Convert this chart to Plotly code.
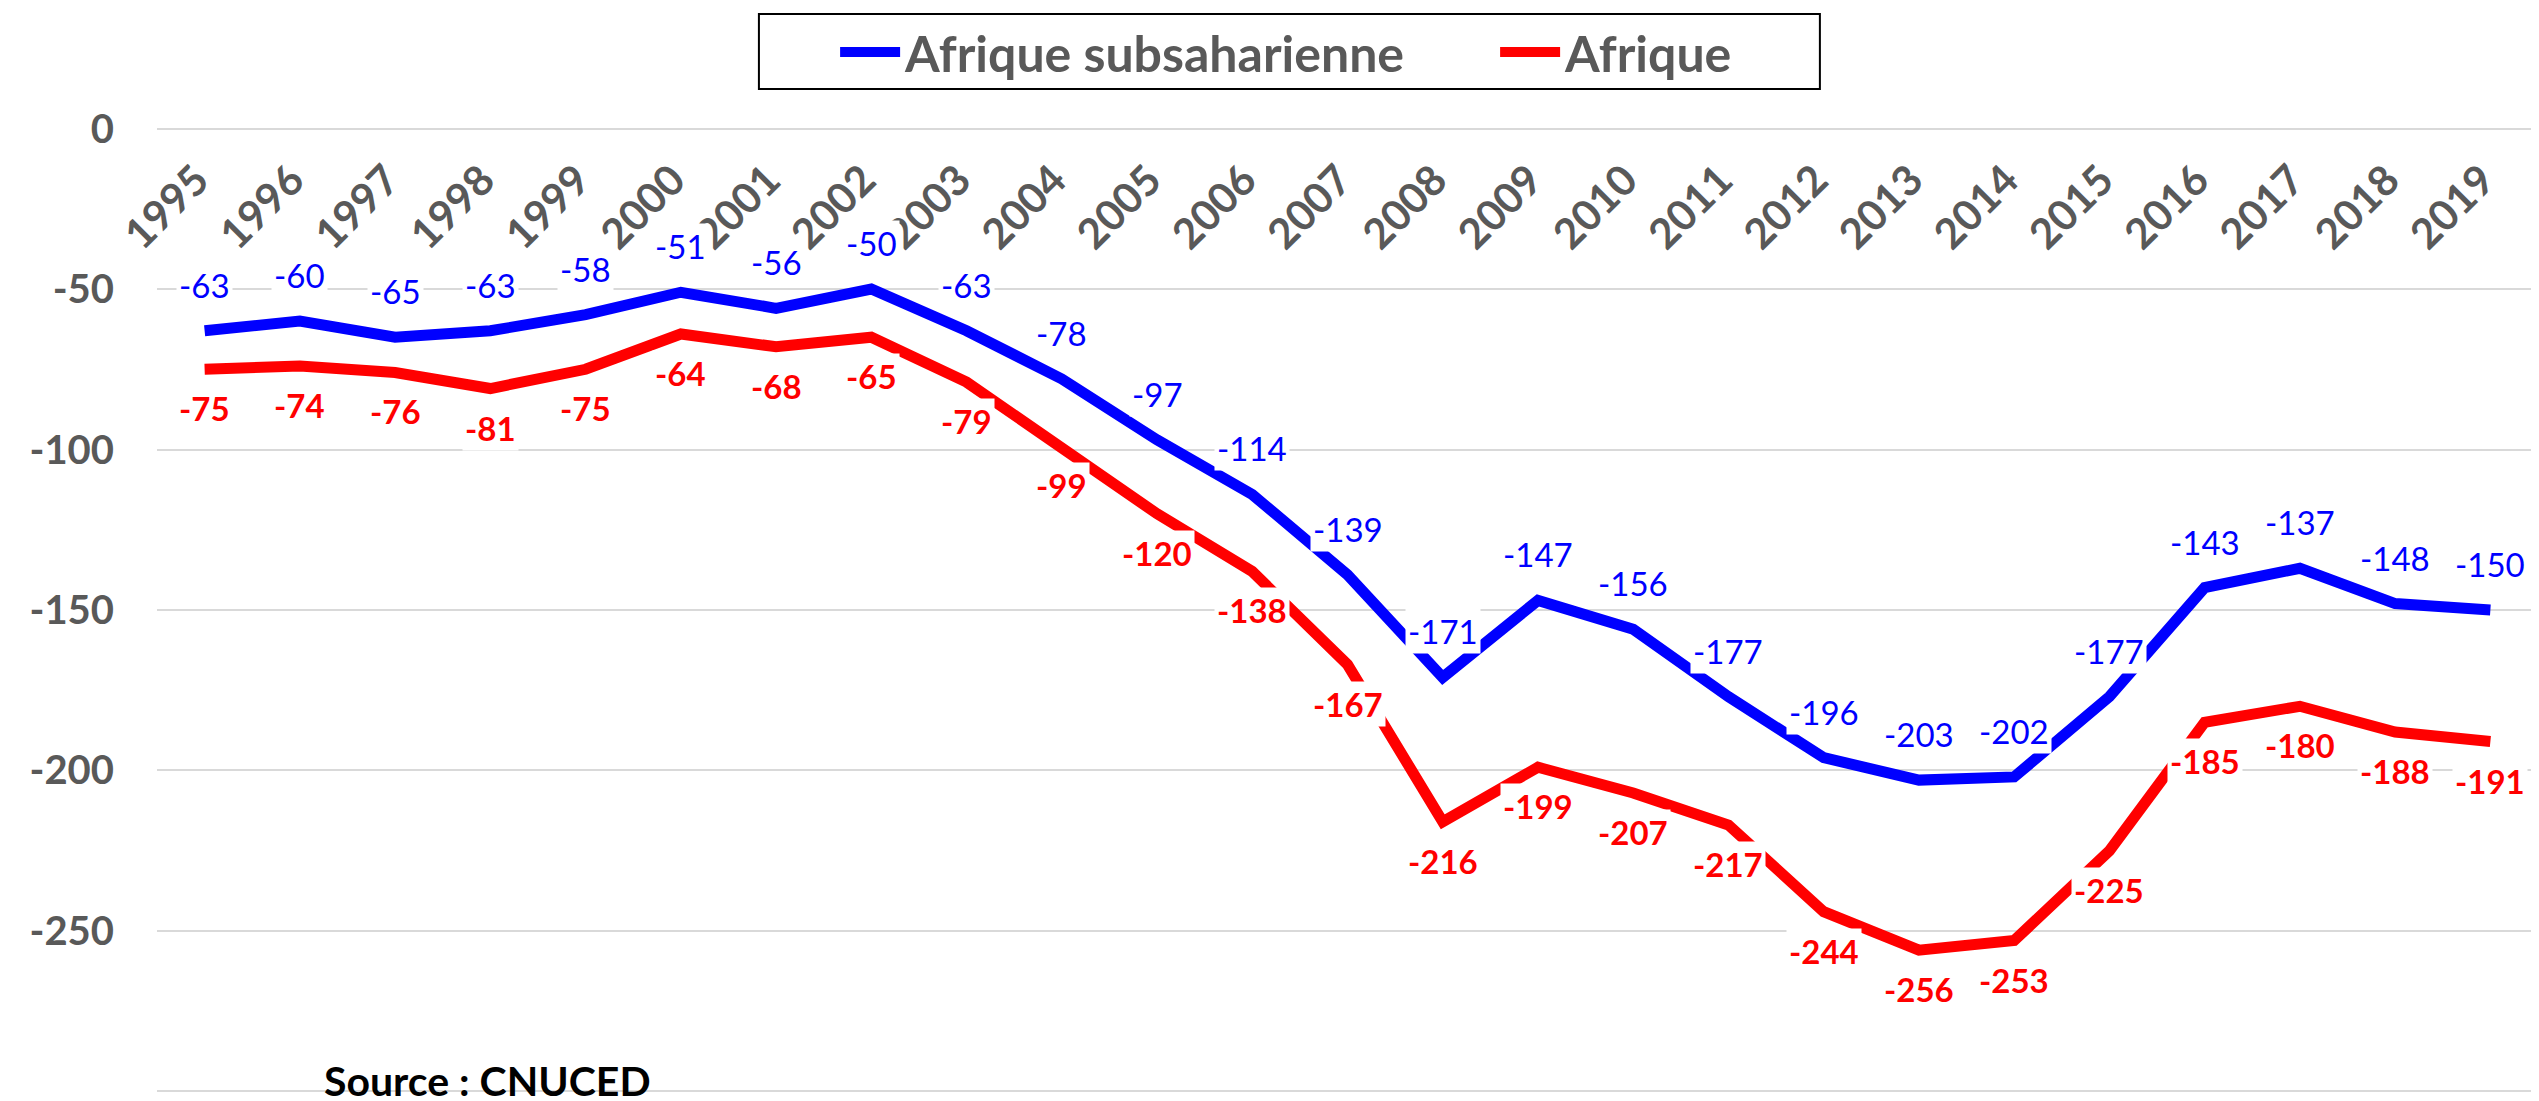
import plotly.graph_objects as go

years = list(range(1995, 2020))
ssa = [-63, -60, -65, -63, -58, -51, -56, -50, -63, -78, -97, -114, -139, -171,
       -147, -156, -177, -196, -203, -202, -177, -143, -137, -148, -150]
afrique = [-75, -74, -76, -81, -75, -64, -68, -65, -79, -99, -120, -138, -167, -216,
           -199, -207, -217, -244, -256, -253, -225, -185, -180, -188, -191]
y_ticks = [0, -50, -100, -150, -200, -250, -300]

BLUE = "#0000FF"
RED = "#FF0000"
GRAY = "#595959"
GRID = "#D9D9D9"
FONT = "Lato"

fig = go.Figure()
fig.add_trace(go.Scatter(x=years, y=ssa, mode="lines", name="Afrique subsaharienne",
                         line=dict(color=BLUE, width=11)))
fig.add_trace(go.Scatter(x=years, y=afrique, mode="lines", name="Afrique",
                         line=dict(color=RED, width=11)))

annotations = []
for x, v in zip(years, ssa):
    annotations.append(dict(x=x, y=v, xref="x", yref="y", text=str(v), showarrow=False,
                            yshift=46, bgcolor="white", borderpad=2,
                            font=dict(family=FONT, size=33, color=BLUE)))
for x, v in zip(years, afrique):
    annotations.append(dict(x=x, y=v, xref="x", yref="y", text=f"<b>{v}</b>", showarrow=False,
                            yshift=-39, bgcolor="white", borderpad=2,
                            font=dict(family=FONT, size=33, color=RED)))
annotations.append(dict(x=0.0697, y=-0.012, xref="paper", yref="paper", xanchor="left",
                        yanchor="bottom", showarrow=False, text="<b>Source : CNUCED</b>",
                        borderpad=0,
                        font=dict(family=FONT, size=41, color="black")))

fig.update_layout(
    width=2539, height=1101,
    margin=dict(l=149, r=9, t=118, b=15, autoexpand=False),
    paper_bgcolor="white", plot_bgcolor="white",
    font=dict(family=FONT, color=GRAY),
    annotations=annotations,
    showlegend=True,
    legend=dict(orientation="h", x=0.2848, y=1.0764, xanchor="left", yanchor="middle",
                font=dict(family=FONT, size=50, color=GRAY, weight="bold"),
                bgcolor="rgba(0,0,0,0)", borderwidth=0, itemwidth=60, entrywidth=585),
    shapes=[dict(type="rect", xref="paper", yref="paper", x0=0.2528, x1=0.6984,
                 y0=1.0382, y1=1.1157, line=dict(color="black", width=2),
                 fillcolor="rgba(0,0,0,0)", layer="below")],
    xaxis=dict(type="linear", anchor="free", position=1.0, side="bottom",
               range=[1994.5, 2019.5], tickvals=years, ticktext=[str(y) for y in years],
               showgrid=False, showline=False, zeroline=False, ticks="",
               tickangle=-45, ticklabelstandoff=20, ticklabelshift=-8,
               tickfont=dict(family=FONT, size=42, color=GRAY, weight="bold")),
    yaxis=dict(range=[-300.8, 0.8], tickvals=y_ticks, ticktext=[str(v) for v in y_ticks],
               showgrid=True, gridcolor=GRID, gridwidth=2,
               zeroline=False, showline=False,
               ticks="", ticklabelstandoff=42,
               tickfont=dict(family=FONT, size=40, color=GRAY, weight="bold")),
)

fig.write_html("out.html")
